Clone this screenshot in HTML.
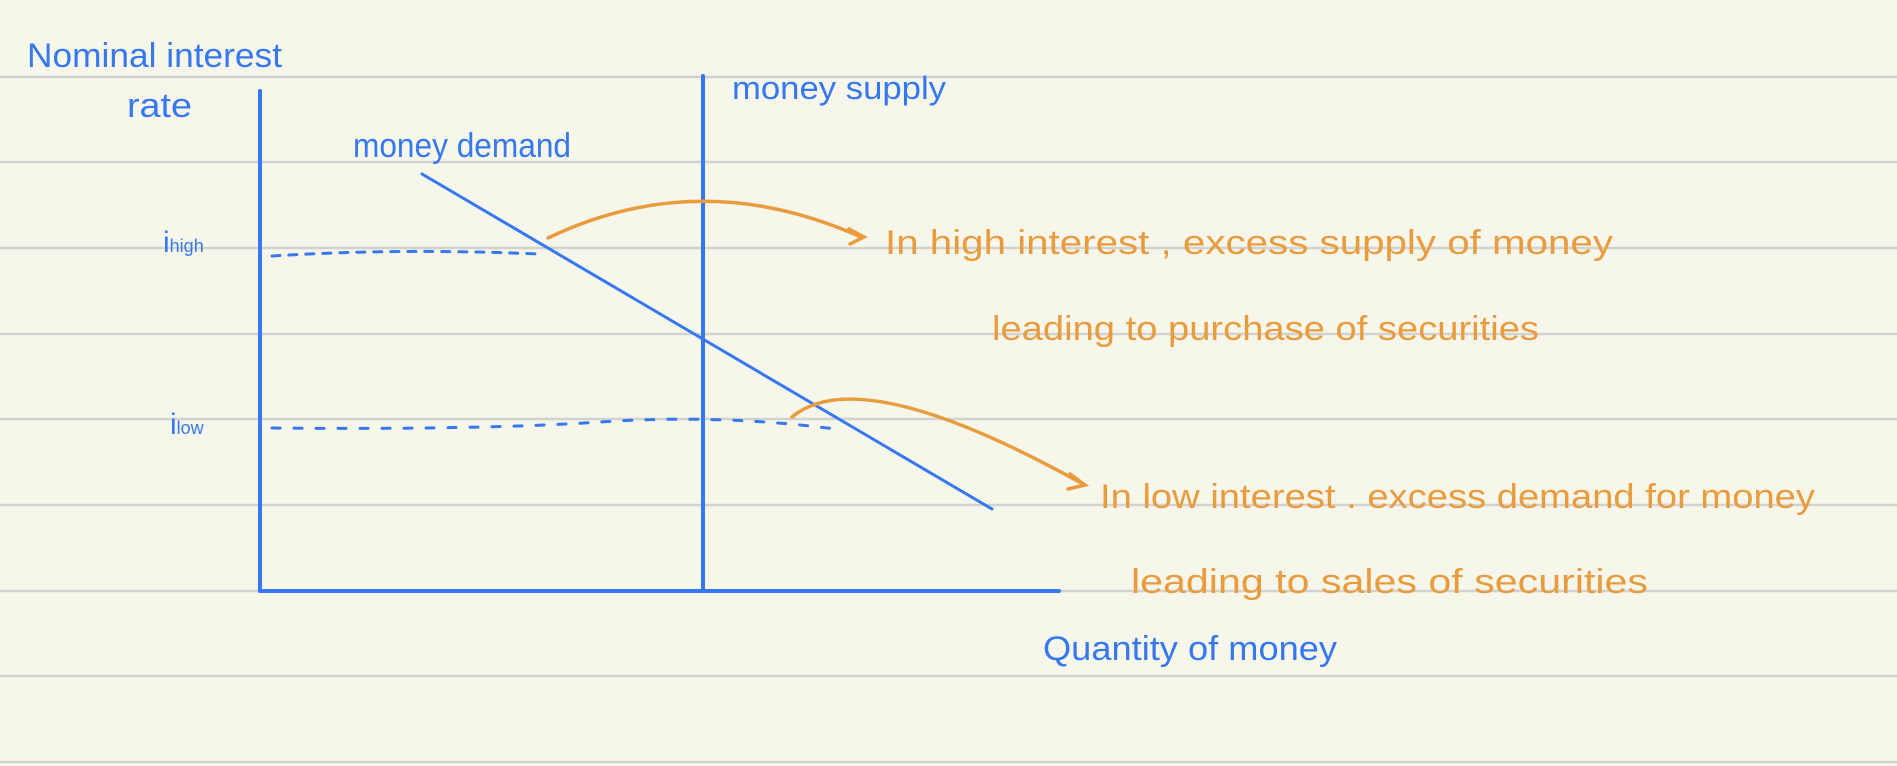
<!DOCTYPE html>
<html><head><meta charset="utf-8"><style>
html,body{margin:0;padding:0;background:#f6f6ea;}
svg{display:block}
text{font-family:"Liberation Sans",sans-serif;}
.b{fill:#3578f0}.o{fill:#e99c3e}
</style></head><body>
<svg width="1897" height="766" viewBox="0 0 1897 766">
<rect width="1897" height="766" fill="#f6f6ea"/>
<g id="rules"></g>
<g stroke="#3578f0" stroke-width="4" fill="none" stroke-linecap="round">
<line x1="260" y1="91" x2="260" y2="591"/>
<line x1="260" y1="591" x2="1059" y2="591"/>
<line x1="703" y1="76" x2="703" y2="591"/>
<line x1="422" y1="174" x2="992" y2="509" stroke-width="3"/>
<path d="M272 256 Q400 248 538 254" stroke-dasharray="8 9" stroke-width="3"/>
<path d="M272 428 Q480 430 600 422 T835 429" stroke-dasharray="8 14" stroke-width="3"/>
</g>
<g stroke="#e99c3e" stroke-width="3.5" fill="none" stroke-linecap="round">
<path d="M548 238 Q700 165 861 237"/>
<path d="M849 229 L864 237 L850 244"/>
<path d="M792 417 Q860 360 1083 484"/>
<path d="M1070 474 L1085 485 L1068 489"/>
</g>
<text class="b" x="27" y="67" font-size="34" textLength="255" lengthAdjust="spacingAndGlyphs">Nominal interest</text>
<text class="b" x="127" y="117" font-size="34" textLength="65" lengthAdjust="spacingAndGlyphs">rate</text>
<text class="b" x="353" y="157" font-size="34" textLength="218" lengthAdjust="spacingAndGlyphs">money demand</text>
<text class="b" x="732" y="99" font-size="32" textLength="214" lengthAdjust="spacingAndGlyphs">money supply</text>
<text class="b" x="163" y="252" font-size="30">i<tspan font-size="18">high</tspan></text>
<text class="b" x="170" y="434" font-size="30">i<tspan font-size="18">low</tspan></text>
<text class="b" x="1043" y="660" font-size="34" textLength="294" lengthAdjust="spacingAndGlyphs">Quantity of money</text>
<text class="o" x="885" y="254" font-size="34" textLength="728" lengthAdjust="spacingAndGlyphs">In high interest , excess supply of money</text>
<text class="o" x="992" y="340" font-size="34" textLength="547" lengthAdjust="spacingAndGlyphs">leading to purchase of securities</text>
<text class="o" x="1100" y="508" font-size="34" textLength="715" lengthAdjust="spacingAndGlyphs">In low interest . excess demand for money</text>
<text class="o" x="1131" y="593" font-size="34" textLength="517" lengthAdjust="spacingAndGlyphs">leading to sales of securities</text>
</svg>
<script>
const ruleYs=[77,162,248,334,419,505,591,676,762];
const g=document.getElementById('rules');
ruleYs.forEach(y=>{
const l=document.createElementNS('http://www.w3.org/2000/svg','line');
l.setAttribute('x1',0);l.setAttribute('x2',1897);l.setAttribute('y1',y);l.setAttribute('y2',y);
l.setAttribute('stroke','#d2d2cf');l.setAttribute('stroke-width','2.5');


g.appendChild(l);
});
</script>
</body></html>
